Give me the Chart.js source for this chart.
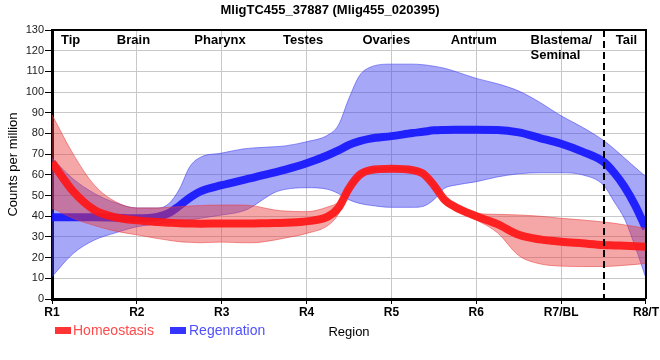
<!DOCTYPE html>
<html>
<head>
<meta charset="utf-8">
<script src="https://cdn.jsdelivr.net/npm/chart.js@4.4.1/dist/chart.umd.min.js"></script>
<style>
  html, body { margin: 0; padding: 0; background: #fff; }
  #wrap { width: 660px; height: 360px; position: relative; }
</style>
</head>
<body>
<div id="wrap"><canvas id="c" width="660" height="360"></canvas></div>
<script>
// ---- data ----
const chartTitle = 'MligTC455_37887 (Mlig455_020395)';
const regionTicks = ['R1', 'R2', 'R3', 'R4', 'R5', 'R6', 'R7/BL', 'R8/T'];
const sectionNames = ['Tip', 'Brain', 'Pharynx', 'Testes', 'Ovaries', 'Antrum', 'Blastema/\nSeminal', 'Tail'];
const sectionPos = [1.22, 1.96, 2.98, 3.96, 4.94, 5.97, 6.64, 7.77];
const tailBoundary = 7.5;
const seriesNames = ['Homeostasis', 'Regenration'];
const yTitle = 'Counts per million';
const xTitle = 'Region';

const xs = [1, 1.25, 1.5, 1.75, 2, 2.25, 2.375, 2.5, 2.625, 2.75, 3, 3.25, 3.375, 3.5, 3.625, 3.75, 4, 4.25, 4.375, 4.5, 4.625, 4.75, 5, 5.25, 5.375, 5.5, 5.625, 5.75, 6, 6.25, 6.5, 6.75, 7, 7.25, 7.5, 7.625, 7.75, 7.875, 8];

const homeoMean  = [66, 52, 43, 39.5, 38, 37.2, 36.9, 36.6, 36.5, 36.4, 36.5, 36.5, 36.5, 36.6, 36.7, 36.9, 37.5, 39.8, 44, 53.5, 60, 62.3, 63, 62.3, 60.5, 55, 48, 44.5, 40, 36.2, 31, 28.8, 27.7, 26.9, 26.1, 25.9, 25.7, 25.5, 25.3];
const homeoUpper = [89, 70, 55, 47, 44, 44, 44.3, 44.6, 44.9, 45.2, 45.4, 45.4, 45, 44, 43, 42.5, 42.2, 44.5, 47, 55, 61, 63, 63.5, 62.8, 61, 56, 49.5, 46, 41.4, 40.9, 40.6, 40, 39, 38.2, 37.2, 36.6, 35.8, 35, 34.1];
const homeoLower = [44, 39, 35.5, 32.8, 31, 29.2, 28.4, 27.7, 27.4, 27.2, 27.5, 27.2, 27.2, 27.7, 28.5, 29.5, 31.7, 35.5, 41, 52, 59, 61.6, 62.5, 61.8, 60, 54, 46, 43, 38.2, 32, 21, 17, 15.9, 15.7, 15.7, 15.9, 16.3, 16.7, 17.2];

const regenMean  = [39.5, 39.5, 39.5, 39.3, 39, 39.8, 41.5, 45, 49, 52, 55, 57.5, 58.7, 60, 61.2, 62.5, 65.6, 69.5, 71.8, 74.5, 76.3, 77.5, 78.7, 80.2, 80.8, 81.5, 81.7, 81.8, 81.8, 81.7, 80.5, 77.8, 75, 71.2, 66.3, 61, 54, 45, 34];
const regenUpper = [68, 58, 51, 46.5, 44, 44, 46, 53, 64, 68.5, 70.5, 72.5, 73, 73.3, 73.6, 74, 76, 79.2, 84, 97, 108, 112, 113.5, 113.5, 113.2, 112.5, 111.5, 110, 106.6, 104, 100.5, 95, 88.5, 83, 76.6, 72.5, 68, 63.5, 59];
const regenLower = [10.8, 22, 28.5, 32, 34.9, 36.3, 37, 37.6, 38.3, 39, 40.6, 42.5, 45, 48.5, 51.5, 53, 53.8, 53, 51, 48, 46.2, 45.3, 44.3, 44.3, 44.8, 48, 53.5, 55, 56.7, 59, 60.5, 61, 61, 60, 55, 47, 38.5, 25, 10];

// ---- styles ----
const FONT = "'Liberation Sans', Arial, sans-serif";
const RED_LINE = 'rgba(255,22,22,0.92)';
const BLUE_LINE = 'rgba(22,22,255,0.92)';
const RED_FILL = 'rgba(232,60,60,0.45)';
const BLUE_FILL = 'rgba(60,60,240,0.45)';
const RED_EDGE = 'rgba(232,60,60,0.55)';
const BLUE_EDGE = 'rgba(60,60,240,0.55)';

const pts = arr => arr.map((v, i) => ({ x: xs[i], y: v }));

function lineDs(label, arr, color, width, fill, bg) {
  return {
    label, data: pts(arr), borderColor: color, borderWidth: width,
    backgroundColor: bg || 'transparent', fill: fill,
    pointRadius: 0, cubicInterpolationMode: 'monotone', borderCapStyle: 'butt'
  };
}

const overlay = {
  id: 'overlay',
  afterDatasetsDraw(chart) {
    const { ctx, chartArea: a, scales } = chart;
    const x = scales.x.getPixelForValue(tailBoundary);
    ctx.save();
    ctx.strokeStyle = '#000';
    ctx.lineWidth = 2;
    ctx.setLineDash([7, 4]);
    ctx.beginPath();
    ctx.moveTo(Math.round(x), a.top);
    ctx.lineTo(Math.round(x), a.bottom + 6);
    ctx.stroke();
    ctx.setLineDash([]);
    // top and right frame
    ctx.lineWidth = 2;
    ctx.beginPath();
    ctx.moveTo(a.left, a.top);
    ctx.lineTo(a.right, a.top);
    ctx.lineTo(a.right, a.bottom);
    ctx.stroke();
    ctx.restore();
  },
  afterDraw(chart) {
    const { ctx, chartArea: a, scales } = chart;
    ctx.save();
    // title
    ctx.fillStyle = '#000';
    ctx.font = 'bold 13px ' + FONT;
    ctx.textAlign = 'center';
    ctx.textBaseline = 'middle';
    ctx.fillText(chartTitle, 330, 10);
    // section labels
    ctx.textBaseline = 'alphabetic';
    sectionNames.forEach((name, i) => {
      const px = scales.x.getPixelForValue(sectionPos[i]);
      const lines = name.split('\n');
      if (lines.length > 1) {
        ctx.textAlign = 'left';
        lines.forEach((ln, j) => ctx.fillText(ln, px, 44 + j * 15));
      } else {
        ctx.textAlign = 'center';
        ctx.fillText(name, px, 44);
      }
    });
    // legend
    ctx.font = '14px ' + FONT;
    ctx.textAlign = 'left';
    ctx.textBaseline = 'middle';
    ctx.fillStyle = '#ff3535';
    ctx.fillRect(55, 327, 16, 7);
    ctx.fillStyle = '#ff4a4a';
    ctx.fillText(seriesNames[0], 73, 331);
    ctx.fillStyle = '#3535ff';
    ctx.fillRect(170, 327, 16, 7);
    ctx.fillStyle = '#5050ff';
    ctx.fillText(seriesNames[1], 189, 331);
    // x axis title
    ctx.fillStyle = '#000';
    ctx.font = '13px ' + FONT;
    ctx.textAlign = 'center';
    ctx.fillText(xTitle, (a.left + a.right) / 2, 332);
    ctx.restore();
  }
};

new Chart(document.getElementById('c'), {
  type: 'line',
  data: {
    datasets: [
      lineDs(seriesNames[0], homeoMean, RED_LINE, 8, false),
      lineDs('homeoUpper', homeoUpper, RED_EDGE, 1, 2, RED_FILL),
      lineDs('homeoLower', homeoLower, RED_EDGE, 1, false),
      lineDs(seriesNames[1], regenMean, BLUE_LINE, 8, false),
      lineDs('regenUpper', regenUpper, BLUE_EDGE, 1, 5, BLUE_FILL),
      lineDs('regenLower', regenLower, BLUE_EDGE, 1, false)
    ]
  },
  options: {
    responsive: false,
    animation: false,
    devicePixelRatio: 1,
    layout: { autoPadding: false, padding: { top: 30, right: 10, bottom: 0, left: 0 } },
    plugins: {
      legend: { display: false },
      tooltip: { enabled: false },
      title: { display: false }
    },
    scales: {
      x: {
        type: 'linear', min: 1, max: 8,
        afterFit(s) { s.height = 61; },
        afterBuildTicks(s) { s.ticks = regionTicks.map((_, i) => ({ value: i + 1 })); },
        ticks: {
          callback: (v) => regionTicks[Math.round(v) - 1] || '',
          color: '#000', font: { family: FONT, size: 12, weight: 'bold' },
          maxRotation: 0, autoSkip: false, padding: 1
        },
        grid: { color: '#c8c8c8', lineWidth: 1, tickLength: 5, tickColor: '#000' },
        border: { color: '#000', width: 3 }
      },
      y: {
        min: 0, max: 130,
        afterFit(s) { s.width = 52; },
        ticks: {
          stepSize: 10, color: '#222', font: { family: FONT, size: 11 }, padding: 1
        },
        grid: { color: '#c8c8c8', lineWidth: 1, tickLength: 7, tickColor: '#000' },
        border: { color: '#000', width: 3 },
        title: {
          display: true, text: yTitle, color: '#000',
          font: { family: FONT, size: 13 }, padding: { top: 6, bottom: 0 }
        }
      }
    }
  },
  plugins: [overlay]
});
</script>
</body>
</html>
